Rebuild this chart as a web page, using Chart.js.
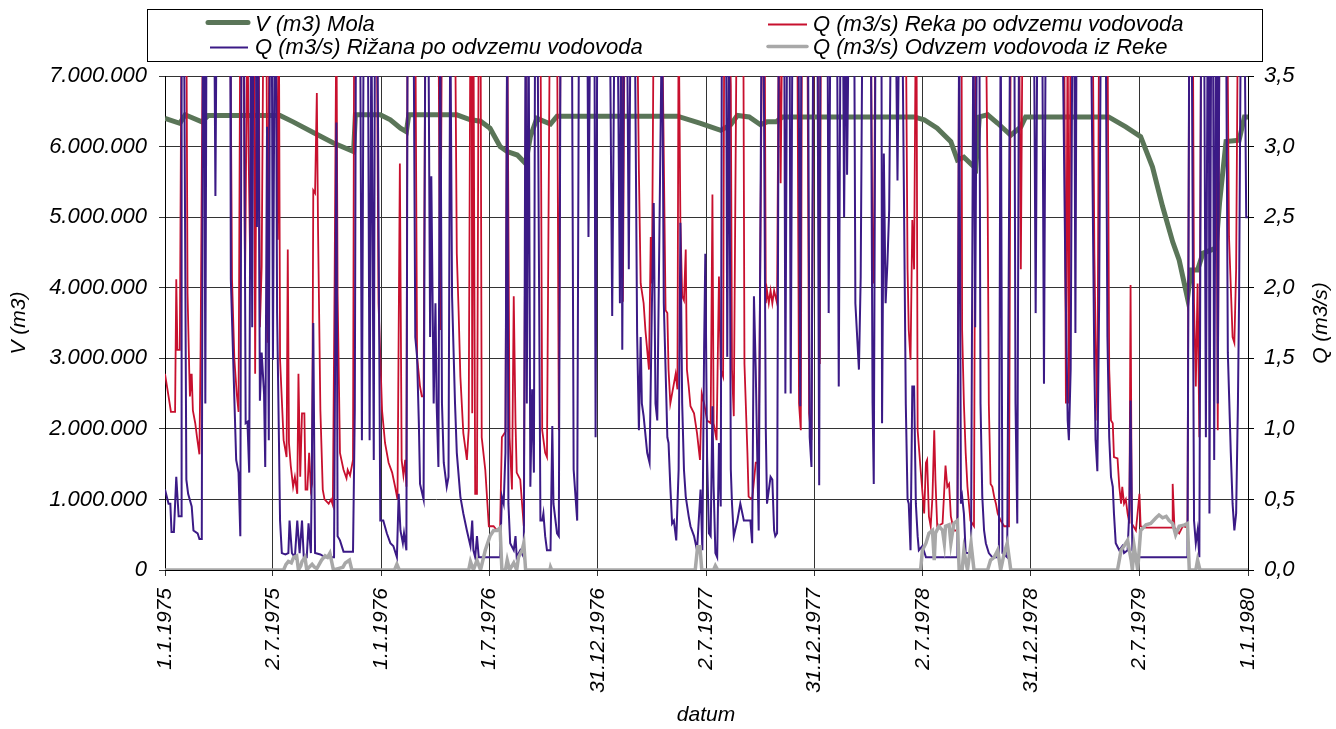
<!DOCTYPE html>
<html>
<head>
<meta charset="utf-8">
<script src="https://cdn.jsdelivr.net/npm/chart.js@4.4.1/dist/chart.umd.min.js"></script>
<style>
html, body { margin: 0; padding: 0; background: #fff; }
</style>
</head>
<body>
<canvas id="chart" width="1336" height="729"></canvas>
<script>
// x = days from 1.1.1975
const tickDays = [0, 182, 365, 547, 730, 913, 1095, 1278, 1460, 1643, 1826];
const tickLabels = ['1.1.1975', '2.7.1975', '1.1.1976', '1.7.1976', '31.12.1976', '2.7.1977',
	'31.12.1977', '2.7.1978', '31.12.1978', '2.7.1979', '1.1.1980'];

// V (m3) Mola
const vMola = [[0,6400000],[25,6330000],[34,6450000],[62,6350000],[73,6440000],[194,6440000],[216,6350000],
	[250,6200000],[284,6050000],[318,5930000],[321,6450000],[363,6450000],[380,6380000],[397,6260000],[407,6210000],
	[411,6450000],[492,6450000],[515,6380000],[532,6360000],[548,6260000],[565,6000000],[577,5930000],[594,5880000],
	[608,5760000],[616,6140000],[627,6400000],[650,6320000],[661,6430000],[864,6430000],[903,6330000],[937,6230000],
	[954,6310000],[965,6440000],[985,6420000],[1004,6310000],[1015,6350000],[1030,6350000],[1041,6420000],
	[1263,6420000],[1280,6380000],[1302,6260000],[1325,6070000],[1336,5810000],[1347,5850000],[1367,5690000],
	[1373,6420000],[1387,6450000],[1404,6330000],[1426,6160000],[1443,6280000],[1451,6420000],[1591,6420000],
	[1620,6280000],[1645,6140000],[1665,5710000],[1682,5150000],[1699,4650000],[1710,4390000],[1724,3850000],
	[1730,4250000],[1741,4250000],[1750,4490000],[1772,4560000],[1778,5200000],[1789,6070000],[1811,6090000],
	[1820,6420000],[1826,6420000]];

// Q (m3/s) Reka po odvzemu vodovoda (values above 3,5 run off the top)
const reka = [[0,1.39],[6,1.23],[10,1.12],[17,1.12],[19,2.06],[21,1.56],[25,1.56],[28,4],[36,4],[38,1.96],[41,1.39],
	[42,1.23],[45,1.39],[47,1.13],[51,1.04],[54,0.94],[58,0.82],[60,1.56],[64,4],[110,4],[113,2.06],[117,1.49],
	[121,1.25],[124,1.12],[127,4],[132,4],[135,2.06],[139,4],[141,2.95],[144,2.06],[147,4],[150,4],[152,1.39],
	[155,4],[158,4],[160,1.72],[163,2.15],[166,4],[171,4],[173,1.61],[176,4],[187,4],[190,2.34],[192,4],[194,1.49],
	[200,0.92],[205,0.80],[207,2.27],[209,0.90],[212,0.74],[216,0.59],[219,0.66],[223,0.54],[225,1.39],[228,0.66],
	[231,1.11],[235,1.11],[237,0.57],[240,0.57],[243,0.83],[246,0.57],[248,0.61],[250,2.69],[253,2.67],[256,3.38],
	[258,2.43],[262,1.13],[266,0.57],[269,0.50],[276,0.47],[280,0.50],[283,0.46],[286,2.06],[289,4],[291,1.96],
	[295,0.83],[301,0.71],[306,0.65],[308,0.71],[312,0.67],[317,0.78],[319,4],[357,4],[360,1.89],[366,1.13],
	[371,0.90],[377,0.76],[383,0.69],[388,0.59],[392,0.50],[396,2.88],[399,0.78],[402,0.67],[405,0.78],[407,0.59],
	[409,4],[422,4],[425,1.51],[430,1.30],[433,1.23],[436,1.23],[439,4],[461,4],[464,1.70],[467,4],[489,4],
	[492,2.24],[495,1.84],[498,1.37],[503,0.97],[509,0.78],[512,0.99],[515,4],[517,4],[518,1.11],[520,4],[523,0.54],
	[526,0.54],[529,4],[532,4],[534,0.94],[540,0.71],[546,0.31],[554,0.31],[560,0.28],[565,0.30],[568,0.94],
	[574,0.98],[577,4],[581,0.94],[585,0.57],[588,1.94],[591,1.04],[593,0.69],[599,0.64],[602,0.47],[605,0.31],
	[609,4],[633,4],[636,0.99],[641,0.83],[644,0.80],[649,4],[661,4],[664,0.99],[667,4],[770,4],[772,1.9],[775,4],
	[796,4],[799,2.83],[802,2.03],[807,1.89],[810,1.70],[816,1.42],[819,2.36],[821,2.03],[824,4],[838,4],[844,1.84],
	[847,1.82],[849,1.42],[852,1.18],[855,1.25],[861,1.39],[864,1.28],[866,4],[869,2.46],[872,1.94],[875,1.91],
	[878,2.27],[880,1.42],[883,1.30],[886,1.16],[892,1.11],[897,0.97],[902,0.78],[905,1.25],[909,1.18],[914,1.06],
	[920,1.04],[923,2.66],[925,1.04],[930,0.92],[934,2.08],[937,1.42],[941,1.37],[943,4],[951,4],[954,3.43],
	[956,1.42],[959,1.09],[964,4],[975,4],[977,1.46],[982,0.83],[984,0.52],[990,0.50],[996,0.76],[1001,0.76],
	[1007,4],[1011,4],[1013,1.89],[1015,1.98],[1018,1.89],[1021,1.98],[1024,1.89],[1027,1.98],[1032,1.89],[1035,4],
	[1038,2.74],[1041,4],[1066,4],[1069,1.18],[1072,0.99],[1074,4],[1083,4],[1086,1.11],[1090,0.92],[1094,4],
	[1100,4],[1104,1.46],[1106,4],[1190,4],[1193,2.13],[1195,2.03],[1198,4],[1249,4],[1252,2.13],[1254,1.70],
	[1257,1.49],[1260,2.48],[1263,2.13],[1266,4],[1267,4],[1269,0.99],[1274,0.71],[1280,0.40],[1283,0.76],
	[1285,0.78],[1288,0.38],[1291,0.31],[1294,0.52],[1297,0.99],[1299,0.64],[1302,0.31],[1311,0.33],[1316,0.74],
	[1319,0.59],[1322,0.61],[1325,0.38],[1330,0.28],[1336,0.28],[1339,4],[1343,4],[1344,1.70],[1347,1.18],
	[1350,0.83],[1353,0.59],[1358,0.35],[1364,0.31],[1367,4],[1384,4],[1387,2.67],[1389,1.18],[1392,0.61],
	[1395,0.59],[1398,0.52],[1401,0.47],[1404,0.40],[1409,0.35],[1415,0.31],[1423,0.31],[1426,4],[1440,4],
	[1443,2.13],[1446,4],[1516,4],[1519,1.18],[1522,4],[1524,1.18],[1527,4],[1564,4],[1567,2.24],[1569,1.65],
	[1572,1.06],[1575,4],[1589,4],[1592,1.42],[1595,1.06],[1598,1.04],[1600,0.80],[1606,0.79],[1609,0.59],
	[1612,0.47],[1614,0.59],[1617,0.47],[1620,0.50],[1623,0.40],[1626,0.33],[1628,2.02],[1630,0.33],[1637,0.28],
	[1643,0.54],[1645,0.31],[1654,0.30],[1698,0.30],[1699,0.61],[1702,0.30],[1710,0.26],[1716,0.31],[1724,0.30],
	[1727,4],[1733,4],[1735,1.89],[1738,1.30],[1741,2.03],[1744,0.94],[1747,4],[1772,4],[1775,0.99],[1778,4],
	[1791,4],[1794,2.36],[1800,1.65],[1803,1.61],[1806,2.13],[1809,4],[1826,4]];

// Q (m3/s) Rižana po odvzemu vodovoda
const rizana = [[0,0.57],[6,0.47],[9,0.47],[11,0.27],[15,0.27],[19,0.66],[23,0.38],[27,0.38],[28,4],[32,4],
	[36,0.64],[39,0.54],[45,0.45],[48,0.28],[55,0.26],[58,0.22],[62,0.22],[64,4],[66,4],[68,1.18],[70,4],[83,4],
	[85,2.65],[87,4],[110,4],[111,2.06],[115,1.49],[120,0.78],[124,0.69],[127,0.24],[129,4],[133,4],[136,1.04],
	[139,1.05],[142,0.69],[145,4],[147,1.72],[149,4],[153,4],[155,2.43],[157,4],[160,1.20],[163,1.54],[167,1.25],
	[169,0.73],[172,3.14],[175,0.92],[177,4],[180,4],[182,1.49],[185,4],[187,4],[189,1.82],[191,1.25],[194,0.35],
	[197,0.12],[203,0.11],[208,0.12],[210,0.35],[214,0.12],[219,0.09],[223,0.35],[227,0.12],[231,0.35],[234,0.09],
	[239,0.09],[242,0.33],[246,0.12],[250,1.75],[253,0.12],[262,0.11],[270,0.09],[285,0.09],[289,3.17],[291,0.24],
	[295,0.21],[301,0.13],[317,0.13],[320,1.13],[322,4],[329,4],[332,0.92],[335,4],[342,4],[345,0.92],[348,4],
	[352,0.78],[354,4],[358,4],[363,0.35],[368,0.35],[374,0.26],[380,0.19],[385,0.17],[391,0.09],[394,0.54],
	[397,0.28],[401,0.19],[403,0.26],[407,0.14],[409,4],[419,4],[422,1.65],[425,1.51],[428,1.04],[430,0.61],
	[436,0.50],[439,4],[444,4],[447,1.65],[449,2.79],[453,1.18],[456,1.89],[458,1.18],[461,0.73],[464,4],[467,1.18],
	[470,0.76],[475,0.59],[478,0.66],[481,4],[484,1.94],[489,1.18],[492,0.83],[498,0.52],[503,0.40],[509,0.28],
	[515,0.17],[518,0.35],[520,0.14],[523,0.09],[526,0.24],[529,0.09],[565,0.09],[568,0.52],[571,0.47],[574,0.83],
	[577,4],[579,0.47],[582,0.19],[588,0.14],[591,0.24],[593,0.09],[599,0.14],[605,0.09],[608,4],[610,1.18],[613,4],
	[616,0.59],[619,1.28],[622,0.69],[624,4],[628,4],[633,0.35],[636,0.35],[638,0.40],[641,0.24],[644,0.14],
	[650,0.14],[653,1.02],[655,0.47],[661,0.26],[664,0.24],[667,4],[686,4],[689,0.71],[695,0.35],[698,4],[712,4],
	[714,2.36],[717,4],[724,4],[726,0.94],[729,4],[750,4],[754,1.80],[758,4],[763,4],[767,1.89],[769,4],[771,1.56],
	[774,4],[779,4],[782,2.13],[785,4],[792,4],[796,1.68],[799,0.99],[802,1.65],[804,1.18],[807,1.09],[813,0.83],
	[817,0.76],[821,1.89],[824,2.60],[827,1.18],[830,1.06],[838,4],[841,1.89],[844,1.42],[847,0.94],[849,0.90],
	[852,0.59],[855,0.33],[858,0.35],[862,0.21],[866,0.71],[869,2.46],[872,1.18],[875,0.71],[878,0.52],[883,0.38],
	[886,0.31],[892,0.24],[897,0.14],[903,0.57],[906,0.14],[909,1.58],[911,2.24],[914,0.80],[917,0.26],[920,0.24],
	[923,1.16],[925,0.59],[928,0.12],[931,0.09],[934,0.90],[937,0.45],[939,4],[946,4],[948,1.51],[951,4],[954,0.71],
	[956,0.47],[959,0.24],[965,0.35],[970,0.47],[976,0.35],[987,0.35],[990,0.19],[993,1.94],[996,1.42],[999,0.71],
	[1001,0.28],[1006,4],[1009,4],[1013,0.99],[1015,0.47],[1021,0.66],[1024,0.64],[1027,0.28],[1029,0.24],
	[1032,0.26],[1035,4],[1044,4],[1046,1.25],[1049,4],[1053,4],[1055,1.25],[1058,4],[1068,4],[1071,1.16],[1073,4],
	[1084,4],[1087,0.94],[1090,0.73],[1093,4],[1100,4],[1103,0.6],[1105,4],[1117,4],[1119,1.82],[1122,4],[1133,4],
	[1136,1.30],[1139,4],[1143,4],[1145,2.50],[1148,4],[1149,4],[1150,2.80],[1153,4],[1162,4],[1164,1.89],
	[1170,1.42],[1173,2.08],[1176,4],[1190,4],[1193,1.18],[1195,0.61],[1198,4],[1208,4],[1209,1.04],[1212,2.95],
	[1215,1.89],[1218,2.17],[1221,2.55],[1224,4],[1232,4],[1235,2.76],[1238,4],[1243,4],[1246,2.60],[1249,1.18],
	[1252,0.50],[1254,0.47],[1257,0.14],[1260,1.30],[1263,1.30],[1266,0.47],[1269,0.24],[1271,0.14],[1277,0.17],
	[1283,0.09],[1336,0.09],[1339,4],[1342,0.47],[1344,0.52],[1347,0.40],[1350,0.12],[1359,0.12],[1363,4],
	[1366,1.72],[1369,4],[1373,4],[1375,1.18],[1378,0.52],[1381,0.28],[1384,0.19],[1389,0.12],[1395,0.09],
	[1406,0.09],[1409,4],[1412,0.12],[1420,0.09],[1425,4],[1432,4],[1434,1.18],[1437,0.33],[1440,4],[1465,4],
	[1468,1.82],[1471,4],[1479,4],[1482,1.32],[1485,4],[1513,4],[1518,2.13],[1522,1.06],[1524,0.92],[1527,1.42],
	[1530,4],[1533,4],[1535,1.68],[1537,4],[1561,4],[1567,1.42],[1569,0.92],[1572,0.70],[1575,1.89],[1578,4],
	[1586,4],[1589,1.65],[1592,0.94],[1595,0.66],[1598,0.59],[1600,0.40],[1603,0.19],[1609,0.14],[1614,0.17],
	[1617,0.12],[1623,0.14],[1626,0.43],[1628,1.20],[1631,0.14],[1637,0.09],[1724,0.09],[1727,4],[1731,4],
	[1735,0.35],[1738,0.19],[1741,0.28],[1744,0.09],[1747,4],[1752,4],[1755,0.94],[1758,4],[1760,4],[1761,0.40],
	[1764,4],[1767,4],[1769,0.78],[1772,4],[1774,4],[1775,1.18],[1778,4],[1789,4],[1792,1.54],[1797,0.83],
	[1800,0.47],[1803,0.28],[1806,0.40],[1809,1.18],[1811,1.94],[1814,4],[1820,4],[1823,2.50],[1826,2.5]];

// Q (m3/s) Odvzem vodovoda iz Reke
const odvzem = [[0,0],[200,0],[204,0.04],[208,0.06],[213,0.05],[217,0.09],[222,0.1],[225,0],[229,0.03],[231,0.06],
	[236,0.09],[239,0],[243,0.02],[248,0.04],[252,0.02],[256,0.01],[264,0.07],[270,0.1],[274,0.09],[278,0.12],
	[284,0],[292,0.01],[300,0.02],[304,0.05],[311,0.07],[315,0],[387,0],[391,0.04],[395,0],[512,0],[515,0.06],
	[520,0],[526,0.07],[532,0],[540,0.14],[548,0.24],[554,0.28],[560,0.28],[565,0.30],[568,0],[574,0],[577,0.07],
	[581,0],[588,0.05],[593,0],[596,0.09],[602,0.14],[605,0.19],[608,0],[649,0],[650,0.02],[652,0],[894,0],
	[898,0.165],[902,0.165],[905,0],[925,0],[928,0.03],[932,0],[1274,0],[1277,0.14],[1283,0.19],[1288,0.26],
	[1294,0.28],[1297,0.07],[1299,0.26],[1305,0.31],[1311,0.28],[1314,0.19],[1316,0.31],[1322,0.32],[1325,0.19],
	[1330,0.33],[1336,0.35],[1339,0],[1344,0],[1347,0.14],[1353,0],[1359,0.19],[1364,0],[1387,0],[1392,0.07],
	[1398,0.09],[1404,0.14],[1409,0],[1415,0.12],[1420,0.19],[1426,0],[1606,0],[1612,0.14],[1617,0.17],[1623,0.21],
	[1629,0.07],[1631,0],[1634,0.17],[1640,0],[1645,0.28],[1654,0.32],[1662,0.33],[1671,0.37],[1676,0.39],
	[1682,0.37],[1688,0.38],[1693,0.35],[1699,0.33],[1704,0.25],[1710,0.31],[1719,0.32],[1724,0.33],[1727,0],
	[1738,0],[1741,0.07],[1745,0],[1826,0]];

const seriesNames = ['V (m3) Mola', 'Q (m3/s) Reka po odvzemu vodovoda', 'Q (m3/s) Rižana po odvzemu vodovoda',
	'Q (m3/s) Odvzem vodovoda iz Reke'];
const colors = ['#5a7558', '#c8102e', '#3b1a86', '#a8a8a8'];
const fontFamily = '"Liberation Sans", Arial, sans-serif';

function toPoints(arr){
	return arr.map(function(p){ return {x: p[0], y: p[1]}; });
}

function dots(v){
	return String(Math.round(v)).replace(/\B(?=(\d{3})+(?!\d))/g, '.');
}

// legend box and axis titles
const extras = {
	id: 'extras',
	afterDraw: function(chart){
		const ctx = chart.ctx;
		ctx.save();
		ctx.strokeStyle = '#000';
		ctx.lineWidth = 1;
		ctx.strokeRect(147.5, 9.5, 1115, 52);

		const items = [
			{x1: 208, x2: 248, y: 22.5, w: 5, c: colors[0], t: seriesNames[0], tx: 255, ty: 25},
			{x1: 768, x2: 807, y: 24.5, w: 1.8, c: colors[1], t: seriesNames[1], tx: 813, ty: 25},
			{x1: 210, x2: 248, y: 47.5, w: 1.8, c: colors[2], t: seriesNames[2], tx: 255, ty: 48},
			{x1: 768, x2: 807, y: 46.5, w: 3.5, c: colors[3], t: seriesNames[3], tx: 813, ty: 48}
		];
		ctx.font = 'italic 22px ' + fontFamily;
		ctx.textBaseline = 'middle';
		ctx.textAlign = 'left';
		items.forEach(function(it){
			ctx.beginPath();
			ctx.strokeStyle = it.c;
			ctx.lineWidth = it.w;
			ctx.lineCap = it.w > 3 ? 'round' : 'butt';
			ctx.moveTo(it.x1, it.y);
			ctx.lineTo(it.x2, it.y);
			ctx.stroke();
			ctx.fillStyle = '#000';
			ctx.fillText(it.t, it.tx, it.ty);
		});

		ctx.font = 'italic 21px ' + fontFamily;
		ctx.textAlign = 'center';
		ctx.fillText('datum', 706, 715);

		ctx.save();
		ctx.translate(19, 323);
		ctx.rotate(-Math.PI / 2);
		ctx.fillText('V (m3)', 0, 0);
		ctx.restore();

		ctx.save();
		ctx.translate(1321, 323);
		ctx.rotate(-Math.PI / 2);
		ctx.fillText('Q (m3/s)', 0, 0);
		ctx.restore();
		ctx.restore();
	}
};

const ctx = document.getElementById('chart').getContext('2d');
const myChart = new Chart(ctx, {
	type: 'line',
	data: {
		datasets: [{
			label: seriesNames[0],
			data: toPoints(vMola),
			yAxisID: 'y',
			borderColor: colors[0],
			borderWidth: 5,
			order: 4
		}, {
			label: seriesNames[1],
			data: toPoints(reka),
			yAxisID: 'y1',
			borderColor: colors[1],
			borderWidth: 1.8,
			order: 3
		}, {
			label: seriesNames[2],
			data: toPoints(rizana),
			yAxisID: 'y1',
			borderColor: colors[2],
			borderWidth: 2,
			order: 2
		}, {
			label: seriesNames[3],
			data: toPoints(odvzem),
			yAxisID: 'y1',
			borderColor: colors[3],
			borderWidth: 3.5,
			order: 1
		}]
	},
	options: {
		responsive: false,
		animation: false,
		events: [],
		elements: {
			point: {radius: 0},
			line: {tension: 0, fill: false}
		},
		layout: {padding: {top: 76, left: 0, right: 0, bottom: 0}},
		plugins: {
			legend: {display: false},
			tooltip: {enabled: false}
		},
		scales: {
			x: {
				type: 'linear',
				min: 0,
				max: 1826,
				afterBuildTicks: function(scale){
					scale.ticks = tickDays.map(function(v){ return {value: v}; });
				},
				afterFit: function(scale){ scale.height = 159; },
				grid: {color: '#333', lineWidth: 1, tickLength: 6},
				border: {color: '#000', width: 1},
				ticks: {
					autoSkip: false,
					maxRotation: 90,
					minRotation: 90,
					padding: 12,
					color: '#000',
					font: {family: fontFamily, size: 21, style: 'italic'},
					callback: function(v, i){ return tickLabels[i]; }
				}
			},
			y: {
				position: 'left',
				min: 0,
				max: 7000000,
				afterFit: function(scale){ scale.width = 165; },
				grid: {color: '#333', lineWidth: 1, tickLength: 6},
				border: {color: '#000', width: 1},
				ticks: {
					stepSize: 1000000,
					padding: 12,
					color: '#000',
					font: {family: fontFamily, size: 22, style: 'italic'},
					callback: function(v){ return dots(v); }
				}
			},
			y1: {
				position: 'right',
				min: 0,
				max: 3.5,
				afterFit: function(scale){ scale.width = 88; },
				grid: {drawOnChartArea: false, color: '#000', tickLength: 6},
				border: {color: '#000', width: 1},
				ticks: {
					stepSize: 0.5,
					padding: 10,
					color: '#000',
					font: {family: fontFamily, size: 22, style: 'italic'},
					callback: function(v){ return v.toFixed(1).replace('.', ','); }
				}
			}
		}
	},
	plugins: [extras]
});
</script>
</body>
</html>
